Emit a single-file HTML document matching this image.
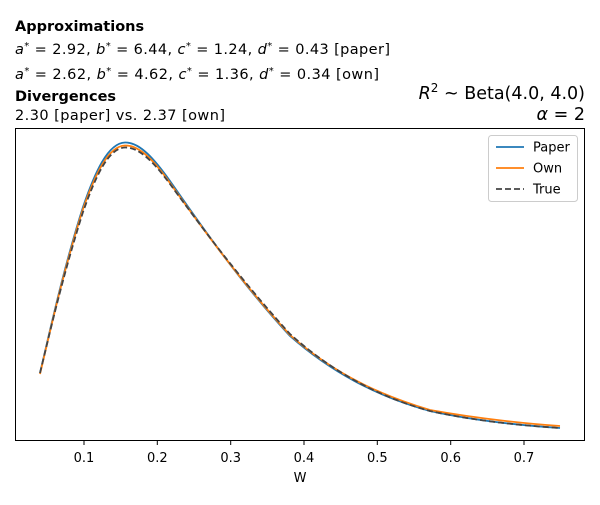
<!DOCTYPE html>
<html><head><meta charset="utf-8"><style>
body{margin:0;background:#fff;}
svg text{font-family:"DejaVu Sans","Liberation Sans",sans-serif;fill:#000;}
</style></head><body>
<svg width="600" height="500" viewBox="0 0 600 500" xmlns="http://www.w3.org/2000/svg">
<text x="15" y="31" font-size="14.5" font-weight="bold">Approximations</text>
<text x="15" y="54" font-size="14.5" textLength="375" lengthAdjust="spacing"><tspan font-style="italic">a</tspan><tspan dy="-5" font-size="10">*</tspan><tspan dy="5"> = 2.92, </tspan><tspan font-style="italic">b</tspan><tspan dy="-5" font-size="10">*</tspan><tspan dy="5"> = 6.44, </tspan><tspan font-style="italic">c</tspan><tspan dy="-5" font-size="10">*</tspan><tspan dy="5"> = 1.24, </tspan><tspan font-style="italic">d</tspan><tspan dy="-5" font-size="10">*</tspan><tspan dy="5"> = 0.43 [paper]</tspan></text>
<text x="15" y="79" font-size="14.5" textLength="364" lengthAdjust="spacing"><tspan font-style="italic">a</tspan><tspan dy="-5" font-size="10">*</tspan><tspan dy="5"> = 2.62, </tspan><tspan font-style="italic">b</tspan><tspan dy="-5" font-size="10">*</tspan><tspan dy="5"> = 4.62, </tspan><tspan font-style="italic">c</tspan><tspan dy="-5" font-size="10">*</tspan><tspan dy="5"> = 1.36, </tspan><tspan font-style="italic">d</tspan><tspan dy="-5" font-size="10">*</tspan><tspan dy="5"> = 0.34 [own]</tspan></text>
<text x="15" y="101" font-size="14.5" font-weight="bold">Divergences</text>
<text x="15" y="120" font-size="14.5" textLength="210" lengthAdjust="spacing">2.30 [paper] vs. 2.37 [own]</text>
<text x="585" y="99" font-size="17.5" text-anchor="end"><tspan font-style="italic">R</tspan><tspan dy="-7" font-size="12">2</tspan><tspan dy="7"> ~  Beta(4.0, 4.0)</tspan></text>
<text x="585" y="120" font-size="17.5" text-anchor="end"><tspan font-style="italic">α</tspan> = 2</text>
<rect x="15.5" y="128.5" width="569" height="312" fill="none" stroke="#000" stroke-width="1"/>
<g stroke="#000" stroke-width="1">
<line x1="84" y1="441" x2="84" y2="445"/><line x1="157.3" y1="441" x2="157.3" y2="445"/><line x1="230.7" y1="441" x2="230.7" y2="445"/><line x1="304" y1="441" x2="304" y2="445"/><line x1="377.3" y1="441" x2="377.3" y2="445"/><line x1="450.7" y1="441" x2="450.7" y2="445"/><line x1="524" y1="441" x2="524" y2="445"/>
</g>
<g font-size="13" text-anchor="middle">
<text x="84" y="462">0.1</text><text x="157.3" y="462">0.2</text><text x="230.7" y="462">0.3</text><text x="304" y="462">0.4</text><text x="377.3" y="462">0.5</text><text x="450.7" y="462">0.6</text><text x="524" y="462">0.7</text>
<text x="300" y="482">W</text>
</g>
<path fill="none" stroke="#1f77b4" stroke-width="1.8" d="M40,373 C50,331 63,270 83,207 C95,172 108,143 125,142.5 C140,142 155,160 170,181 C200,224 240,282 290,336 C340,380 390,400 430,411 C480,422 530,426 560,428"/>
<path fill="none" stroke="#ff7f0e" stroke-width="1.8" d="M40,374 C50,332 63,272 83,209 C95,175 108,146 125,145.5 C140,145 155,162 170,183 C200,225 240,281 290,335 C340,379 390,398 430,410 C480,419 530,424 560,426"/>
<path fill="none" stroke="#444" stroke-width="1.8" stroke-dasharray="6,3" d="M40,373 C50,332 63,275 83,212 C95,178 108,148 125,147.5 C140,147 155,164 170,184 C200,225 240,279 290,334 C340,379 390,400 430,411 C480,422 530,426 560,428"/>
<rect x="488.5" y="135.5" width="89" height="66" rx="3" fill="#fff" stroke="#ccc"/>
<line x1="496" y1="147" x2="524" y2="147" stroke="#1f77b4" stroke-width="1.8"/>
<line x1="496" y1="168" x2="524" y2="168" stroke="#ff7f0e" stroke-width="1.8"/>
<line x1="496" y1="189" x2="524" y2="189" stroke="#444" stroke-width="1.8" stroke-dasharray="6,3"/>
<g font-size="13"><text x="533" y="151.5">Paper</text><text x="533" y="172.5">Own</text><text x="533" y="193.5">True</text></g>
</svg>
</body></html>
